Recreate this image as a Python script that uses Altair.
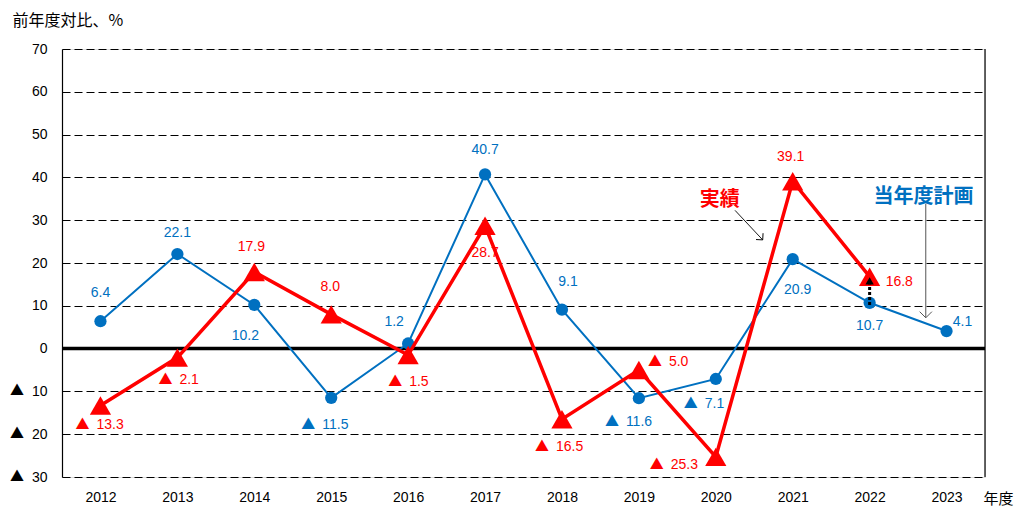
import altair as alt
import pandas as pd

# ---------------- data ----------------
years = [2012, 2013, 2014, 2015, 2016, 2017, 2018, 2019, 2020, 2021, 2022, 2023]
plan = [6.4, 22.1, 10.2, -11.5, 1.2, 40.7, 9.1, -11.6, -7.1, 20.9, 10.7, 4.1]
actual_years = [2012, 2013, 2014, 2015, 2016, 2017, 2018, 2019, 2020, 2021, 2022]
actual = [-13.3, -2.1, 17.9, 8.0, -1.5, 28.7, -16.5, -5.0, -25.3, 39.1, 16.8]
y_ticks = [-30, -20, -10, 0, 10, 20, 30, 40, 50, 60, 70]

BLUE = "#0070C0"
RED = "#FF0000"
NUM_FONT = "Liberation Sans"
JP_FONT = "Noto Sans CJK JP"
NEG_MARK = "▲"

# label placement styles: (dx, dy, align) in pixels from the point;
# for negative values dx is the left edge of the "▲ n" group
plan_place = [(0, -28, "center"), (0, -21, "center"), (-9, 31, "center"), (-29, 27, "left"),
              (-14, -21, "center"), (0, -24, "center"), (6, -28, "center"), (-33, 24, "left"),
              (-31, 25, "left"), (5, 31, "center"), (0, 23, "center"), (16, -9, "center")]
actual_place = [(-24, 19, "left"), (-18, 22, "left"), (-3, -25, "center"), (-1, -27, "center"),
                (-19, 27, "left"), (0, 27, "center"), (-26, 28, "left"), (10, -8, "left"),
                (-65, 8, "left"), (-2, -24, "center"), (16, 5, "left")]

plan_df = pd.DataFrame({"year": years, "value": plan,
                        "num": [f"{abs(v):.1f}" for v in plan]})
act_df = pd.DataFrame({"year": actual_years, "value": actual,
                       "num": [f"{abs(v):.1f}" for v in actual]})

xscale = alt.Scale(domain=[2011.5, 2023.5], nice=False, zero=False)
yscale = alt.Scale(domain=[-30, 70], nice=False, zero=False)

X = alt.X("year:Q", scale=xscale, axis=alt.Axis(
    values=years, format="d", grid=False, ticks=False, domain=False,
    labelFontSize=14, labelColor="#000", labelFont=NUM_FONT, labelPadding=13,
    title="年度", titleFont=JP_FONT, titleFontSize=15, titleFontWeight="normal",
    titleColor="#000", titleAlign="left", titleBaseline="middle", titleX=921, titleY=21))
Y = alt.Y("value:Q", scale=yscale, axis=alt.Axis(
    values=y_ticks, ticks=False, domain=True, domainColor="#000", domainWidth=1.2,
    grid=True, gridColor="#000", gridDash=[8, 4], gridWidth=1.2, gridOpacity=1,
    labelExpr="abs(datum.value)",
    labelFontSize=14, labelColor="#000", labelFont=NUM_FONT, labelPadding=15,
    title="前年度対比、%", titleFont=JP_FONT, titleFontSize=16, titleFontWeight="normal",
    titleColor="#000", titleAngle=0, titleAlign="left", titleBaseline="middle",
    titleX=-50, titleY=-29))

base_plan = alt.Chart(plan_df)
base_act = alt.Chart(act_df)

grid_layer = base_plan.mark_point(opacity=0).encode(x=X, y=Y)

# negative markers on the y axis
neg_ticks = [t for t in y_ticks if t < 0]
axis_neg_df = pd.DataFrame({"x": [2011.5] * len(neg_ticks), "y": neg_ticks, "m": [NEG_MARK] * len(neg_ticks)})
axis_neg = alt.Chart(axis_neg_df).mark_text(dx=-45, align="center", baseline="middle", fontSize=14,
                                            font=JP_FONT, color="#000").encode(
    x=alt.X("x:Q", scale=xscale), y=alt.Y("y:Q", scale=yscale), text="m:N")

zero_df = pd.DataFrame({"x1": [2011.5], "x2": [2023.5], "y": [0]})
zero_rule = alt.Chart(zero_df).mark_rule(color="#000", strokeWidth=3.5).encode(
    x=alt.X("x1:Q", scale=xscale), x2="x2:Q", y=alt.Y("y:Q", scale=yscale))

right_df = pd.DataFrame({"x": [2023.5], "y1": [-30], "y2": [70]})
right_rule = alt.Chart(right_df).mark_rule(color="#000", strokeWidth=1.2).encode(
    x=alt.X("x:Q", scale=xscale), y=alt.Y("y1:Q", scale=yscale), y2="y2:Q")

plan_line = base_plan.mark_line(color=BLUE, strokeWidth=2).encode(x=X, y=Y)
plan_pts = base_plan.mark_point(shape="circle", filled=True, color=BLUE, size=150, opacity=1).encode(x=X, y=Y)
act_line = base_act.mark_line(color=RED, strokeWidth=3.5).encode(x=X, y=Y)
act_pts = base_act.mark_point(shape="triangle-up", filled=True, color=RED, size=450, opacity=1).encode(x=X, y=Y)

label_layers = []
for df, place, col in ((plan_df, plan_place, BLUE), (act_df, actual_place, RED)):
    for i, (dx, dy, al) in enumerate(place):
        sub = df.iloc[[i]]
        enc = dict(x=alt.X("year:Q", scale=xscale), y=alt.Y("value:Q", scale=yscale))
        if df["value"].iloc[i] < 0:
            sub = sub.assign(m=NEG_MARK)
            label_layers.append(
                alt.Chart(sub).mark_text(dx=dx + 6, dy=dy, align="center", baseline="middle",
                                         fontSize=14, font=JP_FONT, color=col).encode(text="m:N", **enc))
            label_layers.append(
                alt.Chart(sub).mark_text(dx=dx + 20, dy=dy, align="left", baseline="middle",
                                         fontSize=14, font=NUM_FONT, color=col).encode(text="num:N", **enc))
        else:
            label_layers.append(
                alt.Chart(sub).mark_text(dx=dx, dy=dy, align=al, baseline="middle", fontSize=14,
                                         font=NUM_FONT, color=col).encode(text="num:N", **enc))

# annotations (data coordinates)
ann_text_df = pd.DataFrame({"x": [2020.05, 2022.7], "y": [34.8, 35.4],
                            "t": ["実績", "当年度計画"], "c": [RED, BLUE]})
ann_text = alt.Chart(ann_text_df).mark_text(fontSize=20, fontWeight="bold", font=JP_FONT,
                                            baseline="middle", align="center").encode(
    x=alt.X("x:Q", scale=xscale), y=alt.Y("y:Q", scale=yscale), text="t:N",
    color=alt.Color("c:N", scale=None))

arrow1_df = pd.DataFrame({"x1": [2020.25], "y1": [32.3], "x2": [2020.61], "y2": [25.4]})
arrow1 = alt.Chart(arrow1_df).mark_rule(color="#000", strokeWidth=0.9).encode(
    x=alt.X("x1:Q", scale=xscale), y=alt.Y("y1:Q", scale=yscale), x2="x2:Q", y2="y2:Q")
head1 = alt.Chart(arrow1_df).mark_point(shape="M-1,-1L0,0L1,-1", filled=False, color="#000",
                                         strokeWidth=0.9, size=90, angle=318, opacity=1).encode(
    x=alt.X("x2:Q", scale=xscale), y=alt.Y("y2:Q", scale=yscale))

arrow2_df = pd.DataFrame({"x": [2022.73], "y1": [33.8], "y2": [7.2]})
arrow2 = alt.Chart(arrow2_df).mark_rule(color="#555", strokeWidth=1).encode(
    x=alt.X("x:Q", scale=xscale), y=alt.Y("y1:Q", scale=yscale), y2="y2:Q")
head2 = alt.Chart(arrow2_df).mark_point(shape="M-1,-1L0,0L1,-1", filled=False, color="#555",
                                         strokeWidth=1, size=150, opacity=1).encode(
    x=alt.X("x:Q", scale=xscale), y=alt.Y("y2:Q", scale=yscale))

arrow3_df = pd.DataFrame({"x": [2022.0], "y1": [10.2], "y2": [15.0], "yh": [15.8]})
arrow3 = alt.Chart(arrow3_df).mark_rule(color="#000", strokeWidth=3, strokeDash=[3, 2]).encode(
    x=alt.X("x:Q", scale=xscale), y=alt.Y("y1:Q", scale=yscale), y2="y2:Q")
head3 = alt.Chart(arrow3_df).mark_point(shape="triangle-up", filled=True, color="#000",
                                         size=70, opacity=1).encode(
    x=alt.X("x:Q", scale=xscale), y=alt.Y("yh:Q", scale=yscale))

chart = alt.layer(
    grid_layer, axis_neg, zero_rule, right_rule,
    plan_line, plan_pts, act_line, act_pts,
    arrow3, head3,
    *label_layers,
    ann_text, arrow1, head1, arrow2, head2,
).properties(
    width=923, height=428,
    autosize=alt.AutoSizeParams(type="none"),
    padding={"left": 54, "top": 41, "right": 29, "bottom": 30},
).configure_view(stroke=None).configure(background="white")

chart.save("out.html", embed_options={"renderer": "svg", "actions": False})
